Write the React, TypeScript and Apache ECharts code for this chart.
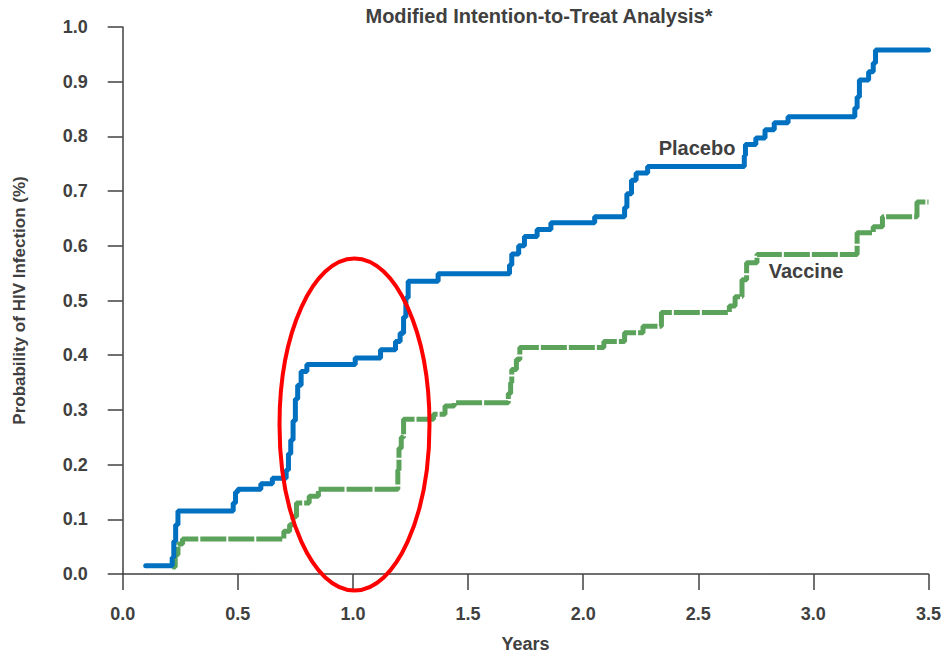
import React, { useEffect, useRef } from "react";
import * as echarts from "echarts";

const xTicks = [0, 0.5, 1.0, 1.5, 2.0, 2.5, 3.0, 3.5];
const yTicks = [0, 0.1, 0.2, 0.3, 0.4, 0.5, 0.6, 0.7, 0.8, 0.9, 1.0];

const placeboTimes = [0.10, 0.215, 0.222, 0.23, 0.24, 0.48, 0.49, 0.50, 0.60, 0.65, 0.71, 0.72, 0.73, 0.74, 0.75, 0.76, 0.775, 0.80, 1.01, 1.12, 1.185, 1.205, 1.22, 1.23, 1.24, 1.37, 1.68, 1.69, 1.72, 1.745, 1.80, 1.86, 2.05, 2.18, 2.19, 2.21, 2.23, 2.28, 2.70, 2.705, 2.75, 2.79, 2.83, 2.89, 3.18, 3.19, 3.20, 3.24, 3.26, 3.27, 3.5];
const placeboValues = [0.015, 0.03, 0.06, 0.09, 0.115, 0.13, 0.15, 0.155, 0.165, 0.175, 0.19, 0.22, 0.245, 0.28, 0.32, 0.345, 0.37, 0.383, 0.395, 0.41, 0.425, 0.44, 0.47, 0.505, 0.535, 0.549, 0.565, 0.585, 0.60, 0.617, 0.63, 0.642, 0.653, 0.67, 0.695, 0.72, 0.733, 0.745, 0.765, 0.785, 0.797, 0.812, 0.825, 0.836, 0.852, 0.872, 0.903, 0.918, 0.934, 0.958, 0.958];

const vaccineTimes = [0.215, 0.228, 0.24, 0.26, 0.70, 0.725, 0.74, 0.755, 0.81, 0.85, 1.195, 1.20, 1.21, 1.22, 1.35, 1.40, 1.44, 1.675, 1.685, 1.69, 1.71, 1.725, 2.09, 2.18, 2.26, 2.34, 2.635, 2.66, 2.69, 2.71, 2.755, 3.19, 3.26, 3.30, 3.45, 3.5];
const vaccineValues = [0.013, 0.035, 0.055, 0.064, 0.078, 0.09, 0.105, 0.13, 0.142, 0.155, 0.19, 0.23, 0.25, 0.283, 0.292, 0.307, 0.313, 0.33, 0.35, 0.374, 0.392, 0.414, 0.425, 0.441, 0.453, 0.478, 0.49, 0.507, 0.538, 0.569, 0.584, 0.624, 0.635, 0.653, 0.68, 0.68];

const titleText = "Modified Intention-to-Treat Analysis*";
const xName = "Years";
const yName = "Probability of HIV Infection (%)";

const textColor = "#404040";
const font = "'Liberation Sans', Arial, sans-serif";

export default function App() {
  const ref = useRef<HTMLDivElement>(null);
  useEffect(() => {
    if (!ref.current) return;
    const chart = echarts.init(ref.current, null, { renderer: "svg" });
    const placebo = placeboTimes.map((t, i) => [t, placeboValues[i]]);
    const vaccine = vaccineTimes.map((t, i) => [t, vaccineValues[i]]);
    chart.setOption({
      animation: false,
      backgroundColor: "#ffffff",
      textStyle: { fontFamily: font },
      grid: { left: 122.7, right: 15.5, top: 27, bottom: 83 },
      xAxis: {
        type: "value",
        min: 0,
        max: 3.5,
        interval: 0.5,
        name: xName,
        nameLocation: "middle",
        nameGap: 61,
        nameTextStyle: { color: textColor, fontSize: 18, fontWeight: "bold", fontFamily: font },
        axisLine: { show: true, lineStyle: { color: "#404040", width: 1.5 } },
        axisTick: { show: true, length: 16, lineStyle: { color: "#404040", width: 1.5 } },
        axisLabel: {
          color: textColor,
          fontSize: 18,
          fontWeight: "bold",
          fontFamily: font,
          margin: 31,
          formatter: (v: number) => v.toFixed(1),
        },
        splitLine: { show: false },
      },
      yAxis: {
        type: "value",
        min: 0,
        max: 1,
        interval: 0.1,
        name: yName,
        nameLocation: "middle",
        nameGap: 95,
        nameTextStyle: { color: textColor, fontSize: 17, fontWeight: "bold", fontFamily: font },
        axisLine: { show: true, lineStyle: { color: "#404040", width: 1.5 } },
        axisTick: { show: true, length: 15, lineStyle: { color: "#404040", width: 1.5 } },
        axisLabel: {
          color: textColor,
          fontSize: 18,
          fontWeight: "bold",
          fontFamily: font,
          margin: 35,
          formatter: (v: number) => v.toFixed(1),
        },
        splitLine: { show: false },
      },
      series: [
        {
          name: "Vaccine",
          type: "line",
          step: "end",
          data: vaccine,
          showSymbol: false,
          symbol: "none",
          clip: false,
          lineStyle: { color: "#5BA25A", width: 5, type: [26, 2], cap: "butt" },
          z: 2,
        },
        {
          name: "Placebo",
          type: "line",
          step: "end",
          data: placebo,
          showSymbol: false,
          symbol: "none",
          clip: false,
          lineStyle: { color: "#0070C0", width: 5, cap: "round" },
          z: 3,
        },
      ],
      graphic: [
        {
          type: "text",
          x: 539,
          y: 16,
          style: {
            text: titleText,
            fill: textColor,
            font: `bold 20px ${font}`,
            align: "center",
            verticalAlign: "middle",
          },
        },
        {
          type: "text",
          x: 697,
          y: 148,
          z: 10,
          style: {
            text: "Placebo",
            fill: textColor,
            font: `bold 20px ${font}`,
            align: "center",
            verticalAlign: "middle",
            backgroundColor: "#ffffff",
          },
        },
        {
          type: "text",
          x: 806,
          y: 271,
          z: 10,
          style: {
            text: "Vaccine",
            fill: textColor,
            font: `bold 20px ${font}`,
            align: "center",
            verticalAlign: "middle",
          },
        },
        {
          type: "ellipse",
          z: 20,
          shape: { cx: 354.5, cy: 424.5, rx: 75, ry: 166 },
          style: { fill: "none", stroke: "#FF0000", lineWidth: 4 },
        },
      ],
    });
    return () => chart.dispose();
  }, []);
  return <div ref={ref} style={{ width: 944, height: 658, position: "absolute", left: 0, top: 0 }} />;
}
